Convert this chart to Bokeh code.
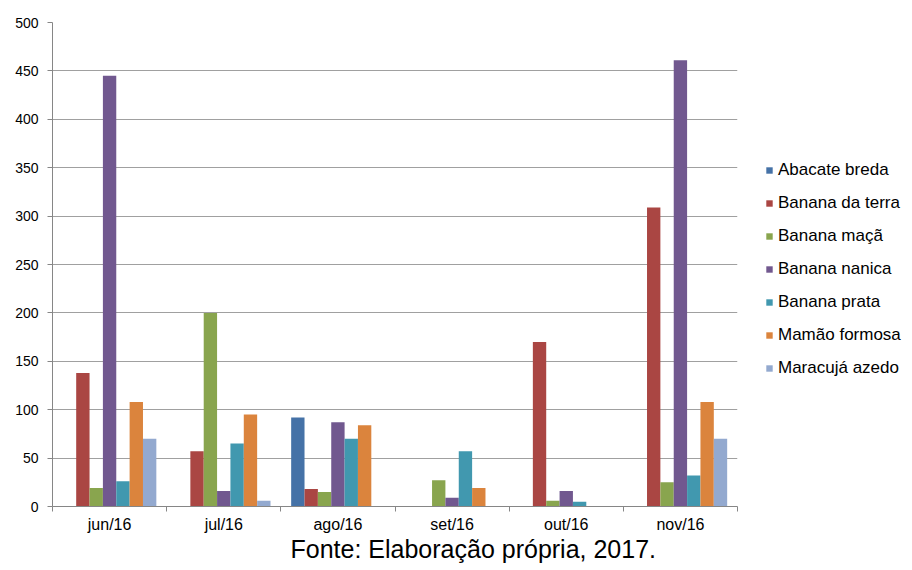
from bokeh.plotting import figure
from bokeh.models import (ColumnDataSource, Range1d, FixedTicker, Legend, LegendItem, Title)
from bokeh.embed import file_html
from bokeh.resources import INLINE

months = ["jun/16", "jul/16", "ago/16", "set/16", "out/16", "nov/16"]
series_names = ["Abacate breda", "Banana da terra", "Banana maçã", "Banana nanica",
                "Banana prata", "Mamão formosa", "Maracujá azedo"]
abacate_breda = [0, 0, 92, 0, 0, 0]
banana_da_terra = [138, 57, 18, 0, 170, 309]
banana_maca = [19, 200, 15, 27, 6, 25]
banana_nanica = [445, 16, 87, 9, 16, 461]
banana_prata = [26, 65, 70, 57, 5, 32]
mamao_formosa = [108, 95, 84, 19, 0, 108]
maracuja_azedo = [70, 6, 0, 0, 0, 70]
series_values = [abacate_breda, banana_da_terra, banana_maca, banana_nanica,
                 banana_prata, mamao_formosa, maracuja_azedo]
colors = ["#4572A7", "#AA4643", "#89A54E", "#71588F", "#4198AF", "#DB843D", "#93A9CF"]
y_ticks = list(range(0, 501, 50))
caption = "Fonte: Elaboração própria, 2017."

FONT = "Liberation Sans"
left, right, top, bottom = 52, 175, 22, 64

p = figure(frame_width=685, frame_height=484, output_backend="svg", toolbar_location=None,
           x_range=Range1d(0, len(months)), y_range=Range1d(0, 500),
           min_border_left=left, min_border_right=right,
           min_border_top=top, min_border_bottom=bottom)
p.outline_line_color = None
p.background_fill_color = "white"
p.border_fill_color = "white"

n = len(series_names)
bw = 0.117
items = []
for i, (name, vals, c) in enumerate(zip(series_names, series_values, colors)):
    xs = [k + 0.5 + (i - (n - 1) / 2) * bw for k in range(len(months))]
    src = ColumnDataSource(dict(x=xs, top=vals))
    r = p.vbar(x="x", top="top", width=bw, bottom=0, source=src,
               fill_color=c, line_color=None)
    items.append(LegendItem(label=name, renderers=[r]))

# x axis
centers = [k + 0.5 for k in range(len(months))]
p.xaxis.ticker = FixedTicker(ticks=centers, minor_ticks=list(range(len(months) + 1)))
p.xaxis.major_label_overrides = {c: m for c, m in zip(centers, months)}
p.xaxis.major_tick_line_color = None
p.xaxis.major_tick_out = 0
p.xaxis.major_tick_in = 0
p.xaxis.minor_tick_line_color = "#868686"
p.xaxis.minor_tick_out = 5
p.xaxis.minor_tick_in = 0
p.xaxis.axis_line_color = "#868686"
p.xaxis.major_label_text_font = FONT
p.xaxis.major_label_text_font_size = "16px"
p.xaxis.major_label_text_color = "#000000"
p.xaxis.major_label_standoff = 4
p.xgrid.grid_line_color = None

# y axis
p.yaxis.ticker = FixedTicker(ticks=y_ticks)
p.yaxis.minor_tick_line_color = None
p.yaxis.axis_line_color = "#868686"
p.yaxis.major_tick_line_color = "#868686"
p.yaxis.major_tick_out = 5
p.yaxis.major_tick_in = 0
p.yaxis.major_label_text_font = FONT
p.yaxis.major_label_text_font_size = "14px"
p.yaxis.major_label_text_color = "#000000"
p.yaxis.major_label_standoff = 9
p.ygrid.ticker = FixedTicker(ticks=y_ticks)
p.ygrid.grid_line_color = "#a0a0a0"
p.ygrid.grid_line_width = 1

legend = Legend(items=items, location=(28, 128), orientation="vertical",
                glyph_width=8, glyph_height=8, label_standoff=5,
                label_height=20, spacing=13, padding=0, margin=0,
                label_text_font=FONT, label_text_font_size="17px",
                label_text_color="#000000",
                border_line_color=None, background_fill_alpha=0)
p.add_layout(legend, "right")

cap = Title(text=caption, align="left", offset=238, text_font=FONT,
            text_font_size="25px", text_font_style="normal",
            text_color="#000000", standoff=-5)
p.add_layout(cap, "below")

open("out.html", "w").write(file_html(p, INLINE))
